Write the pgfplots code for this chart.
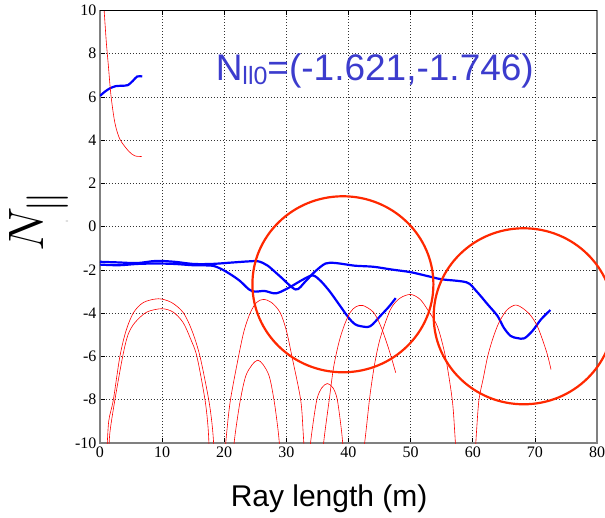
\documentclass[border=0pt]{standalone}
\usepackage{graphicx}
\usepackage{pgfplots}
\pgfplotsset{compat=1.18}
\usepackage{fontspec}
\setmainfont{Liberation Serif}
\newfontfamily\helv{Liberation Sans}
\definecolor{circred}{RGB}{255,40,0}
\definecolor{txtblue}{RGB}{60,60,205}
\begin{document}
\begin{tikzpicture}
\useasboundingbox (-100pt,-74pt) rectangle (505pt,443pt);
\begin{axis}[
 at={(0,0)}, anchor=south west,
 scale only axis, width=497pt, height=432.5pt,
 xmin=0, xmax=80, ymin=-10, ymax=10,
 xtick={0,10,...,80}, ytick={-10,-8,...,10},
 xticklabels={0,10,20,30,40,50,60,70,80},
 yticklabels={-10,-8,-6,-4,-2,0,2,4,6,8,10},
 tick label style={font=\fontsize{16}{16}\selectfont},
 tick align=inside, major tick length=5pt,
 tick style={black, line width=0.6pt},
 grid=major, grid style={black!80, line width=0.6pt, dash pattern=on 0.6pt off 2.4pt},
 axis line style={gray, line width=1.6pt},
 xlabel={\helv Ray length (m)},
 xlabel style={font=\fontsize{30}{30}\selectfont, at={(axis description cs:0.461,-0.1457)}, anchor=base, inner sep=0pt},
 ylabel={\scalebox{2}{\fontsize{24.88}{24.88}\selectfont $N_{\|}$}},
 ylabel style={at={(axis description cs:-0.1230,0.512)}, anchor=center, inner sep=0pt},
 no markers,
]
% blue: upper short branch
\addplot[blue, line width=2.2pt, smooth] coordinates {
(0,6.05) (0.8,6.25) (1.6,6.4) (2.5,6.5) (3.5,6.52) (4.5,6.55) (5.3,6.75) (6,6.95) (6.8,6.95)};
% blue: line A
\addplot[blue, line width=2.2pt, smooth] coordinates {
(0,-1.62) (3,-1.65) (6,-1.68) (9,-1.58) (12,-1.62) (15,-1.72) (18,-1.72) (21,-1.66) (24,-1.6) (25.5,-1.6)
(27,-1.8) (29,-2.3) (31.5,-2.9) (33,-2.55) (34.5,-2.1) (36.3,-1.7) (38,-1.68) (41,-1.8) (44,-1.85)
(47,-1.98) (50,-2.1) (53,-2.3) (55,-2.43) (59,-2.57) (60.5,-2.95) (62.4,-3.59) (64,-4.13) (65,-4.67)
(66.1,-5.05) (67.2,-5.15) (68.3,-5.16) (69.6,-4.82) (71,-4.28) (72.5,-3.85)};
% blue: line B
\addplot[blue, line width=2.2pt, smooth] coordinates {
(0,-1.75) (3,-1.78) (6,-1.72) (9,-1.7) (12,-1.72) (15,-1.78) (18,-1.8) (19.5,-1.95) (21,-2.2)
(22.5,-2.5) (24,-2.9) (25,-3.0) (26.5,-2.97) (28,-3.08) (29,-3.02) (30.9,-2.74) (32.3,-2.5)
(34.2,-2.25) (35.5,-2.5) (37,-3.0) (38.5,-3.6) (40,-4.2) (41,-4.5) (42,-4.6) (43.5,-4.6)
(45.2,-4.1) (46.5,-3.7) (47.6,-3.3)};
% red curves
\addplot[red, line width=0.6pt, smooth] coordinates {
(0.6,10.3) (1.0,8.6) (1.35,7.44) (1.77,6.06) (2.4,4.8) (3.2,4.05) (4.6,3.5) (5.6,3.28) (6.7,3.25)};
\addplot[red, line width=0.6pt, smooth] coordinates {
(1.1,-10.5) (1.4,-9) (2.15,-8) (3.2,-6) (4.2,-4.8) (5.4,-3.97) (7,-3.5) (9.4,-3.33) (11.5,-3.5)
(13.4,-3.97) (14.8,-4.8) (16.1,-6) (17.5,-8) (18.1,-9.3) (18.4,-10.5)};
\addplot[red, line width=0.6pt, smooth] coordinates {
(1.4,-10.5) (1.6,-9.5) (2.4,-8) (3.65,-6) (4.5,-5) (5.6,-4.44) (7.5,-3.95) (9.95,-3.79) (11.8,-3.95)
(13.4,-4.44) (14.6,-5.2) (15.6,-6) (16.9,-8) (17.4,-9.3) (17.6,-10.5)};
\addplot[red, line width=0.6pt, smooth] coordinates {
(20.1,-10.5) (20.4,-9.5) (21,-8) (22.3,-6) (23.2,-4.8) (24.2,-3.97) (25.2,-3.5) (26.3,-3.36)
(27.6,-3.5) (29,-3.97) (30,-4.8) (30.9,-6) (32.3,-8) (32.7,-9.5) (32.9,-10.5)};
\addplot[red, line width=0.6pt, smooth] coordinates {
(21.4,-10.5) (21.8,-9.5) (22.6,-8) (23.6,-6.8) (25.4,-6.17) (27.1,-6.8) (28,-8) (28.7,-9.5) (29,-10.5)};
\addplot[red, line width=0.6pt, smooth] coordinates {
(33.7,-10.5) (34.1,-9.5) (34.9,-8) (35.7,-7.45) (36.6,-7.25) (37.5,-7.45) (38.2,-8) (38.9,-9.5) (39.2,-10.5)};
\addplot[red, line width=0.6pt, smooth] coordinates {
(35.8,-10.5) (36.2,-9.5) (36.9,-8) (37.6,-6.5) (38.5,-5.3) (39.4,-4.5) (40.3,-3.95) (41.2,-3.7)
(42.3,-3.64) (44,-3.95) (45.2,-4.6) (46.5,-5.67) (47.6,-6.75)};
\addplot[red, line width=0.6pt, smooth] coordinates {
(42.4,-10.5) (42.8,-9.5) (43.5,-7.7) (44.3,-6.2) (45.2,-5.06) (46.8,-3.8) (48.3,-3.3) (50,-3.13)
(51.5,-3.35) (52.7,-3.82) (54.3,-4.6) (55.6,-6) (56.7,-8) (57.1,-9.5) (57.3,-10.5)};
\addplot[red, line width=0.6pt, smooth] coordinates {
(60.4,-10.5) (60.6,-9.5) (61,-8) (61.7,-7) (62.4,-6) (63.2,-5.2) (64.2,-4.44) (65.5,-3.85)
(66.9,-3.62) (68.2,-3.8) (69.4,-4.13) (70.4,-4.6) (71.2,-5.2) (72,-5.9) (72.6,-6.6)};
\node[anchor=base west, inner sep=0pt, text=txtblue, font=\helv\fontsize{37}{37}\selectfont]
  at (axis cs:18.6,6.74) {N\raisebox{-4pt}{\fontsize{25}{25}\selectfont ll0}=(-1.621,-1.746)};
\coordinate (c1) at (axis cs:39.1,-2.66);
\coordinate (c2) at (axis cs:68.2,-4.14);
\end{axis}
\draw[black, line width=1pt] (0,432.5pt) -- (497pt,432.5pt);
\draw[circred, line width=2.2pt] (c1) ellipse [x radius=90.5pt, y radius=88pt];
\draw[circred, line width=2.2pt] (c2) ellipse [x radius=90pt, y radius=88pt];
\node[font=\fontsize{5}{5}\selectfont, text=gray, inner sep=0pt] at (-33pt,221pt) {=};
\end{tikzpicture}
\end{document}
